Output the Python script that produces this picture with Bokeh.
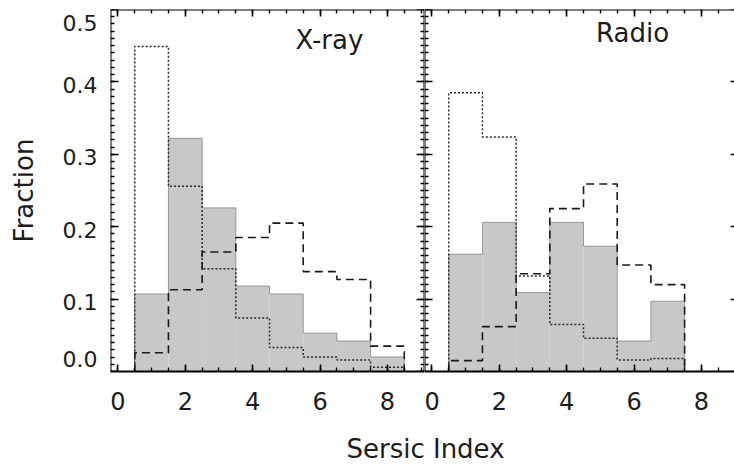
import math
from bokeh.plotting import figure
from bokeh.models import LinearAxis, FixedTicker, Range1d, Label
from bokeh.layouts import row, column
from bokeh.core.properties import value
from bokeh.embed import file_html
from bokeh.resources import INLINE

# ---------------- data ----------------
bin_width = 1.0
xray_centers = [1, 2, 3, 4, 5, 6, 7, 8]
xray_gray = [0.107, 0.322, 0.226, 0.118, 0.107, 0.053, 0.042, 0.020]
xray_dotted = [0.449, 0.256, 0.142, 0.074, 0.033, 0.020, 0.016, 0.006]
xray_dashed = [0.026, 0.113, 0.165, 0.185, 0.205, 0.138, 0.127, 0.035]

radio_centers = [1, 2, 3, 4, 5, 6, 7]
radio_gray = [0.162, 0.206, 0.109, 0.206, 0.173, 0.042, 0.097]
radio_dotted = [0.385, 0.324, 0.132, 0.065, 0.046, 0.016, 0.018]
radio_dashed = [0.015, 0.062, 0.135, 0.225, 0.259, 0.147, 0.120]

x_major_ticks = [0, 2, 4, 6, 8]
x_minor_ticks = [0.5 * i for i in range(-1, 20)]
y_major_ticks = [0.0, 0.1, 0.2, 0.3, 0.4, 0.5]
y_tick_labels = ["0.0", "0.1", "0.2", "0.3", "0.4", "0.5"]
y_minor_ticks = [round(0.01 * i, 2) for i in range(0, 51)]

panel_names = ["X-ray", "Radio"]
x_title = "Sersic Index"
y_title = "Fraction"

# ---------------- style / layout ----------------
FONT = "DejaVu Sans"
TXT = "#1c1c1c"
X_START = -0.22
Y0, Y1 = 0.0, 0.5
FRAME_H = 362
FRAME_W = 314
TOP_B, BOT_B = 9, 49
LAB_W = 108
SCALE = FRAME_W / (9.1 - X_START)
# screen-px nudge (+ = down) of each y tick label, as in the original
Y_LABEL_SHIFT = [-13, 3, 3, 3, 3, 13]


def edges_of(centers):
    return [c - bin_width / 2 for c in centers], [c + bin_width / 2 for c in centers]


def outline(centers, vals):
    lefts, rights = edges_of(centers)
    xs, ys = [lefts[0]], [0.0]
    for l, r, v in zip(lefts, rights, vals):
        xs += [l, r]
        ys += [v, v]
    xs.append(rights[-1])
    ys.append(0.0)
    return xs, ys


def style_axis(ax, major, minor, maj_in, min_in, labels=False):
    ax.ticker = FixedTicker(ticks=major, minor_ticks=minor)
    ax.axis_line_color = "black"
    ax.axis_line_width = 2
    ax.major_tick_in = maj_in
    ax.major_tick_out = 0
    ax.minor_tick_in = min_in
    ax.minor_tick_out = 0
    ax.major_tick_line_color = "black"
    ax.minor_tick_line_color = "black"
    ax.major_tick_line_width = 1.6
    ax.minor_tick_line_width = 1.4
    if not labels:
        ax.major_label_text_color = None
        ax.major_label_text_font_size = "0px"
    else:
        ax.major_label_text_font = FONT
        ax.major_label_text_color = TXT


def make_panel(centers, gray, dotted, dashed, frame_w, x_end, left_border):
    p = figure(frame_width=frame_w, frame_height=FRAME_H,
               x_range=Range1d(X_START, x_end), y_range=Range1d(Y0, Y1),
               output_backend="svg", toolbar_location=None,
               min_border_left=left_border, min_border_right=0,
               min_border_top=TOP_B, min_border_bottom=BOT_B,
               y_axis_location=None, outline_line_color=None,
               background_fill_color="white", border_fill_color="white")
    p.grid.visible = False

    lefts, rights = edges_of(centers)
    p.quad(left=lefts, right=rights, top=gray, bottom=0,
           fill_color="#c8c8c8", line_color=None)
    gx, gy = outline(centers, gray)
    p.line(gx, gy, line_color="#959595", line_width=1)
    dx, dy = outline(centers, dotted)
    p.line(dx, dy, line_color="#2a2a2a", line_width=1.5, line_dash="2 2")
    sx, sy = outline(centers, dashed)
    p.line(sx, sy, line_color="#1a1a1a", line_width=1.6, line_dash="8 5")

    xa = p.xaxis[0]
    style_axis(xa, x_major_ticks, x_minor_ticks, 7, 4, labels=True)
    xa.major_label_text_font_size = "24px"
    xa.major_label_standoff = 20

    top = LinearAxis(fixed_location=Y1)
    p.add_layout(top, "above")
    style_axis(top, x_major_ticks, x_minor_ticks, 7, 4)

    left = LinearAxis(fixed_location=X_START)
    p.add_layout(left, "left")
    style_axis(left, y_major_ticks, y_minor_ticks, 8, 4)

    right = LinearAxis(fixed_location=x_end)
    p.add_layout(right, "right")
    return p, right


# left panel: X-ray
p1, r1 = make_panel(xray_centers, xray_gray, xray_dotted, xray_dashed, FRAME_W, 9.1, 2)
style_axis(r1, y_major_ticks, y_minor_ticks, 8, 4)
p1.add_layout(Label(x=5.27, y=0.458, text=panel_names[0], text_font=FONT,
                    text_font_size="26px", text_color=TXT,
                    text_align="left", text_baseline="alphabetic"))

# right panel: Radio (cut at the window edge, as in the original)
w2 = 310
x_end2 = X_START + w2 / SCALE
p2, r2 = make_panel(radio_centers, radio_gray, radio_dotted, radio_dashed, w2, x_end2, 0)
style_axis(r2, y_major_ticks, [], 4, 0)
r2.axis_line_color = None
p2.add_layout(Label(x=4.87, y=0.468, text=panel_names[1], text_font=FONT,
                    text_font_size="26px", text_color=TXT,
                    text_align="left", text_baseline="alphabetic"))

# y tick labels and y title, on the same vertical scale as the panels
full_h = TOP_B + FRAME_H + BOT_B
lab = figure(width=LAB_W, height=full_h, output_backend="svg", toolbar_location=None,
             x_range=Range1d(0, LAB_W), y_range=Range1d(Y0, Y1),
             min_border_left=0, min_border_right=0,
             min_border_top=TOP_B, min_border_bottom=BOT_B,
             outline_line_color=None, x_axis_location=None, y_axis_location=None,
             background_fill_color="white", border_fill_color="white")
lab.grid.visible = False
lab.text(x=[LAB_W - 11] * len(y_major_ticks), y=y_major_ticks, text=y_tick_labels,
         y_offset=Y_LABEL_SHIFT, text_align="right", text_baseline="middle",
         text_font=value(FONT), text_font_size=value("22px"), text_color=TXT)
lab.text(x=[23], y=[(Y0 + Y1) / 2], text=[y_title], angle=math.pi / 2,
         text_align="center", text_baseline="middle",
         text_font=value(FONT), text_font_size=value("26px"), text_color=TXT)

# x title, centred on the panel junction
total_w = LAB_W + 2 + FRAME_W + w2
bot_h = 464 - full_h
bot = figure(width=total_w, height=bot_h, output_backend="svg", toolbar_location=None,
             x_range=Range1d(0, total_w), y_range=Range1d(0, bot_h),
             min_border=0, outline_line_color=None,
             x_axis_location=None, y_axis_location=None,
             background_fill_color="white", border_fill_color="white")
bot.grid.visible = False
bot.text(x=[LAB_W + 2 + FRAME_W + 1], y=[16], text=[x_title],
         text_align="center", text_baseline="middle",
         text_font=value(FONT), text_font_size=value("26px"), text_color=TXT)

layout = column(row(lab, p1, p2, spacing=0), bot, spacing=0)

open("out.html", "w").write(file_html(layout, INLINE))
